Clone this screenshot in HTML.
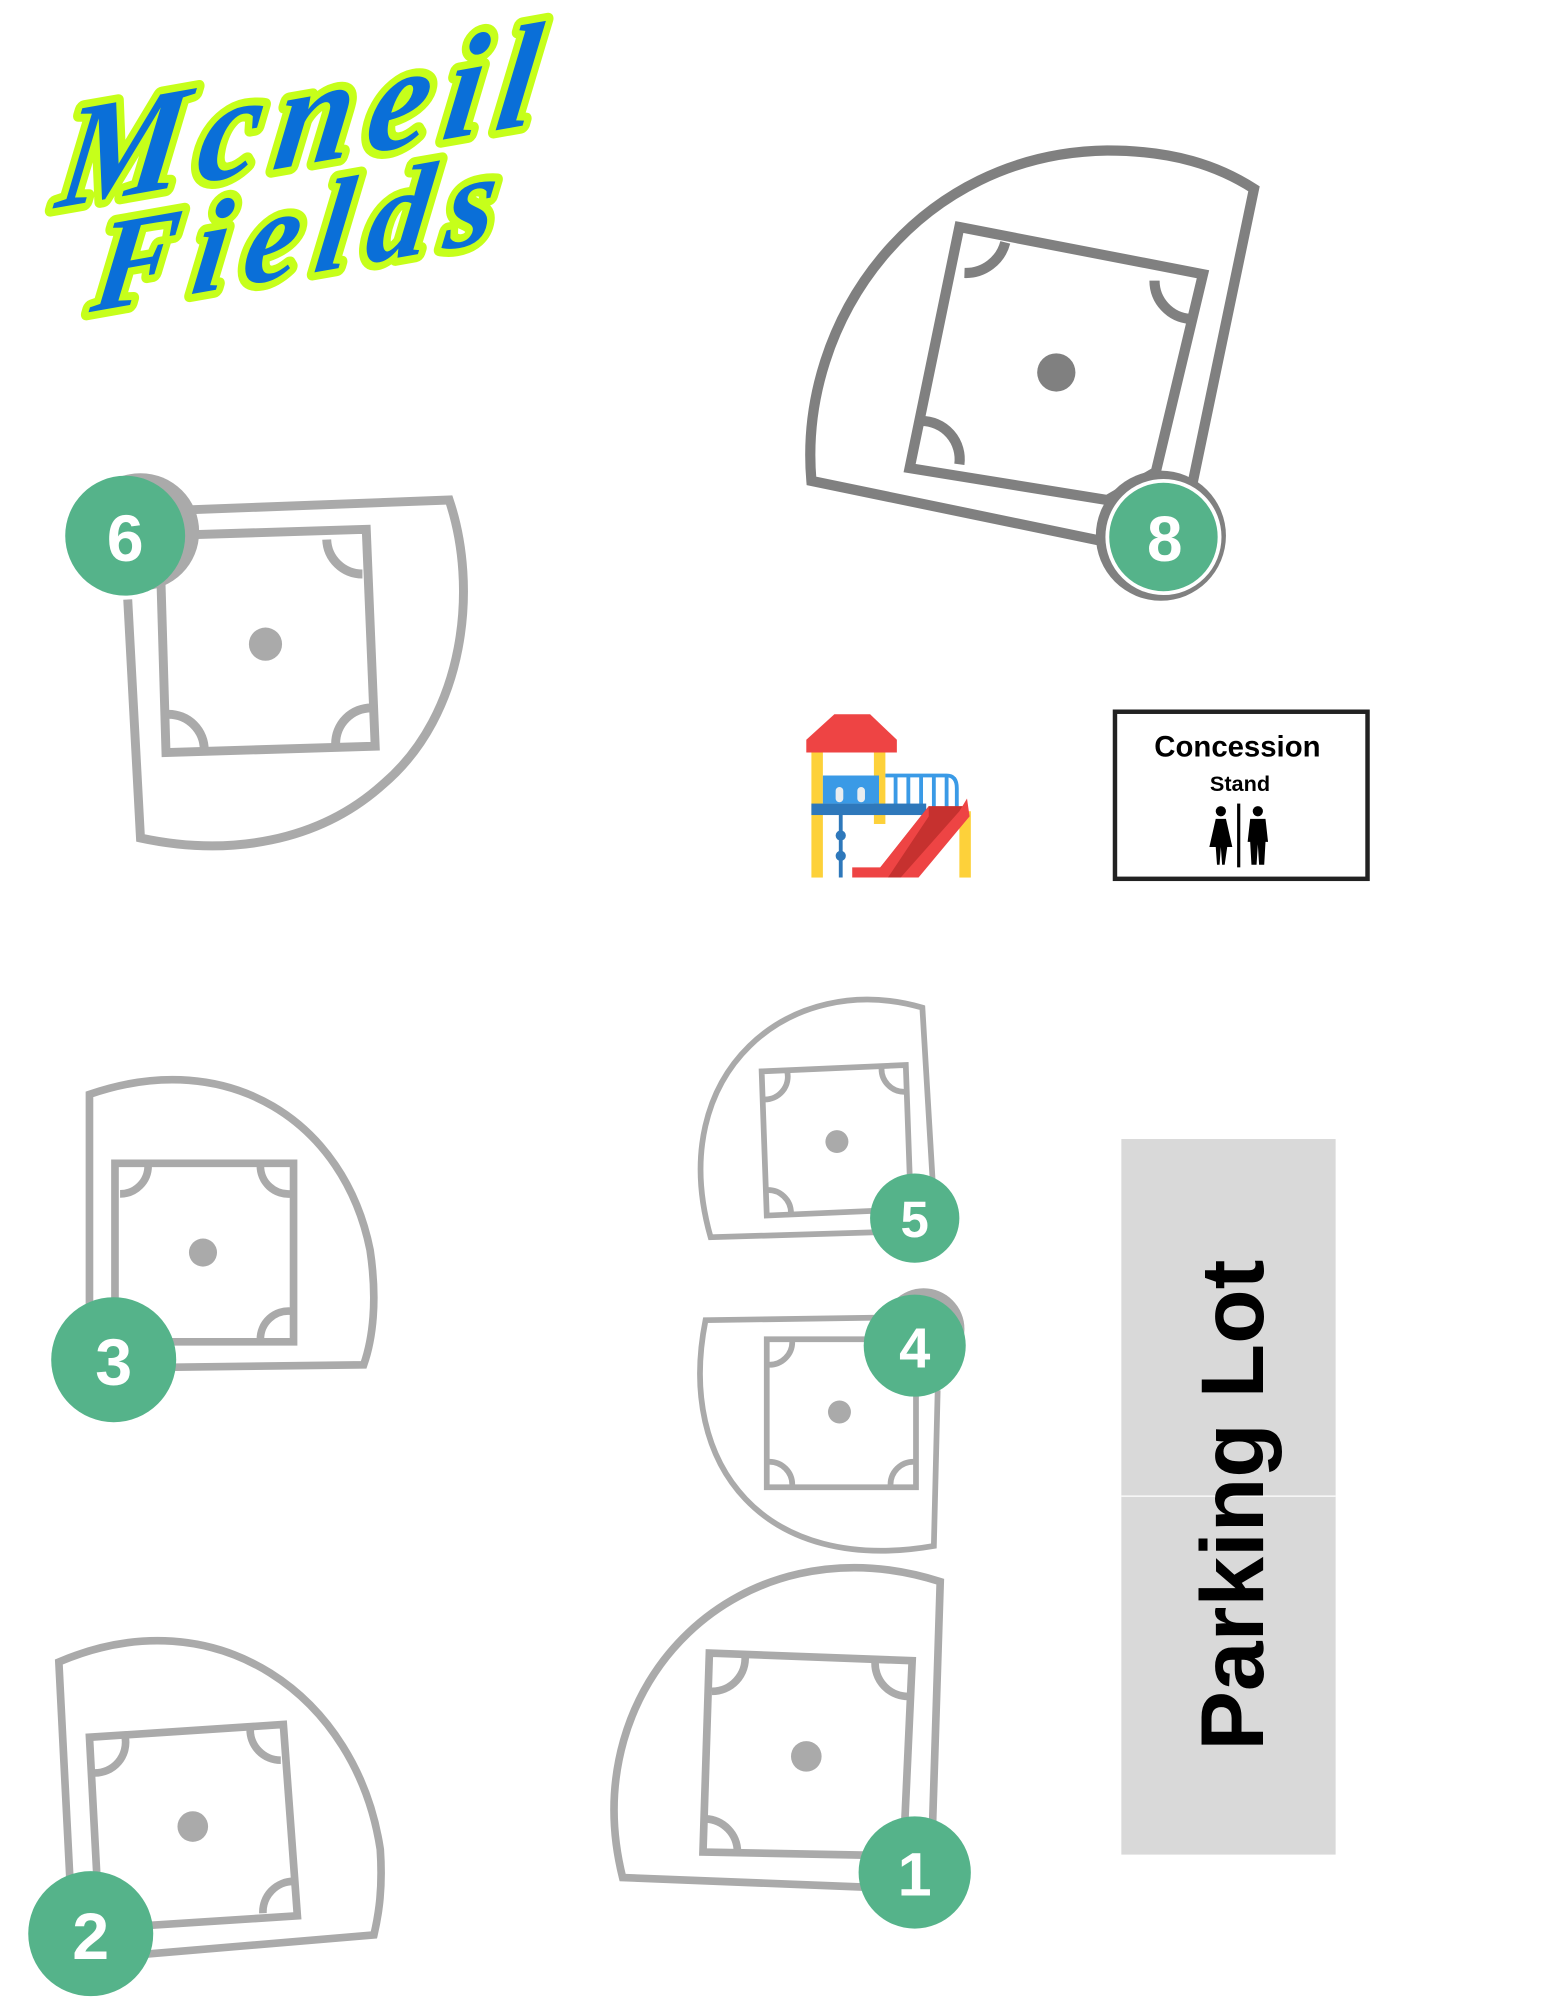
<!DOCTYPE html>
<html><head><meta charset="utf-8"><style>
html,body{margin:0;padding:0;background:#fff;width:1545px;height:2000px;overflow:hidden}
svg{display:block}
text{font-family:"Liberation Sans",sans-serif}
</style></head><body>
<svg width="1545" height="2000" viewBox="0 0 1211 1568" xmlns="http://www.w3.org/2000/svg">
<!-- Logo -->
<g transform="rotate(-10 230 120) skewX(-18)" font-style="italic" font-weight="bold" fill="#0a6fd8" stroke="#c6ff1a" stroke-width="12" paint-order="stroke" stroke-linejoin="round">
<text x="80" y="130" font-size="112" style="font-family:'Liberation Serif',serif" textLength="380">Mcneil</text>
<text x="120" y="215" font-size="100" style="font-family:'Liberation Serif',serif" textLength="320">Fields</text>
</g>

<!-- Field 8 -->
<g fill="none" stroke="#808080" stroke-width="8">
<path d="M868,425 L636,377 C625,250 720,120 868,118 C920,118 955,130 983,148 L935,378"/>
<path d="M752,178 L943,215 L906,370 L868,392 L713,367 Z"/>
<path d="M756,214 A32,32 0 0 0 788,190"/>
<path d="M933,250 A30,30 0 0 1 905,220"/>
<path d="M722,330 A30,30 0 0 1 752,364"/>
</g>
<circle cx="828" cy="292" r="15" fill="#808080"/>
<circle cx="910" cy="420" r="51" fill="#808080"/>
<circle cx="912" cy="421" r="44" fill="#55b38a" stroke="#fff" stroke-width="3"/>
<text x="913" y="440" font-size="50" font-weight="bold" fill="#fff" text-anchor="middle">8</text>

<!-- Field 6 -->
<g fill="none" stroke="#aaa" stroke-width="7">
<path d="M140,400 L352,392 C375,460 365,560 300,615 C250,660 180,672 110,657 L100,470"/>
<path d="M125,420 L287,415 L294,585 L130,590 Z"/>
<path d="M256,423 A28,28 0 0 0 284,450"/>
<path d="M132,560 A28,28 0 0 1 160,588"/>
<path d="M291,555 A28,28 0 0 0 263,583"/>
</g>
<circle cx="208" cy="505" r="13" fill="#aaa"/>
<circle cx="110" cy="417" r="46" fill="#aaa"/>
<circle cx="98" cy="420" r="47" fill="#55b38a"/>
<text x="98" y="440" font-size="52" font-weight="bold" fill="#fff" text-anchor="middle">6</text>

<!-- Field 3 -->
<g fill="none" stroke="#aaa" stroke-width="6">
<path d="M70,1030 L70,858 C180,820 270,880 290,980 C296,1020 292,1050 285,1070 L130,1072"/>
<path d="M90,912 L230,912 L230,1052 L90,1052 Z"/>
<path d="M94,936 A22,22 0 0 0 116,914"/>
<path d="M228,936 A22,22 0 0 1 204,914"/>
<path d="M228,1028 A22,22 0 0 0 204,1050"/>
</g>
<circle cx="159" cy="982" r="11" fill="#aaa"/>
<circle cx="89" cy="1066" r="49" fill="#55b38a"/>
<text x="89" y="1086" font-size="52" font-weight="bold" fill="#fff" text-anchor="middle">3</text>

<!-- Field 2 -->
<g fill="none" stroke="#aaa" stroke-width="6">
<path d="M55,1480 L46,1303 C170,1250 280,1330 298,1450 C300,1480 297,1500 293,1517 L115,1532"/>
<path d="M70,1362 L222,1352 L233,1502 L78,1512 Z"/>
<path d="M74,1390 A24,24 0 0 0 98,1362"/>
<path d="M220,1380 A24,24 0 0 1 196,1355"/>
<path d="M230,1475 A24,24 0 0 0 206,1500"/>
</g>
<circle cx="151" cy="1432" r="12" fill="#aaa"/>
<circle cx="71" cy="1516" r="49" fill="#55b38a"/>
<text x="71" y="1536" font-size="52" font-weight="bold" fill="#fff" text-anchor="middle">2</text>

<!-- Field 5 -->
<g fill="none" stroke="#aaa" stroke-width="4.5">
<path d="M731,925 L723,790 C620,760 520,840 557,970 L690,966"/>
<path d="M597,840 L710,835 L714,948 L601,953 Z"/>
<path d="M599,862 A18,18 0 0 0 617,840"/>
<path d="M709,856 A18,18 0 0 1 691,837"/>
<path d="M601,933 A18,18 0 0 1 620,951"/>
</g>
<circle cx="656" cy="895" r="9" fill="#aaa"/>
<circle cx="717" cy="955" r="35" fill="#55b38a"/>
<text x="717" y="970" font-size="40" font-weight="bold" fill="#fff" text-anchor="middle">5</text>

<!-- Field 4 -->
<g fill="none" stroke="#aaa" stroke-width="4.5">
<path d="M690,1033 L553,1035 C530,1150 600,1235 732,1212 L735,1090"/>
<path d="M601,1050 L718,1050 L718,1166 L601,1166 Z"/>
<path d="M603,1070 A18,18 0 0 0 621,1052"/>
<path d="M603,1146 A18,18 0 0 1 621,1164"/>
<path d="M716,1146 A18,18 0 0 0 698,1164"/>
</g>
<circle cx="658" cy="1107" r="9" fill="#aaa"/>
<circle cx="724" cy="1042" r="32" fill="#aaa"/>
<circle cx="717" cy="1055" r="40" fill="#55b38a"/>
<text x="717" y="1072" font-size="44" font-weight="bold" fill="#fff" text-anchor="middle">4</text>

<!-- Field 1 -->
<g fill="none" stroke="#aaa" stroke-width="6">
<path d="M731,1430 L737,1240 C580,1190 450,1320 488,1472 L690,1480"/>
<path d="M556,1296 L715,1302 L708,1455 L551,1452 Z"/>
<path d="M558,1326 A26,26 0 0 0 584,1298"/>
<path d="M713,1330 A26,26 0 0 1 686,1302"/>
<path d="M553,1426 A26,26 0 0 1 578,1452"/>
</g>
<circle cx="632" cy="1377" r="12" fill="#aaa"/>
<circle cx="717" cy="1468" r="44" fill="#55b38a"/>
<text x="717" y="1486" font-size="48" font-weight="bold" fill="#fff" text-anchor="middle">1</text>

<!-- Playground -->
<g>
<rect x="636" y="586" width="9" height="102" fill="#fdd13a"/>
<rect x="685" y="586" width="9" height="60" fill="#fdd13a"/>
<rect x="752" y="636" width="9" height="52" fill="#fdd13a"/>
<path d="M632,580 L654,560 L682,560 L703,580 L703,590 L632,590 Z" fill="#ee4444"/>
<rect x="645" y="608" width="44" height="22" fill="#3a9ae6"/>
<rect x="655" y="617" width="6" height="12" rx="3" fill="#e8edf0"/>
<rect x="672" y="617" width="6" height="12" rx="3" fill="#e8edf0"/>
<path d="M694,608 L742,608 Q750,608 750,618 L750,638" fill="none" stroke="#3a9ae6" stroke-width="3"/>
<g stroke="#3a9ae6" stroke-width="3"><line x1="702" y1="608" x2="702" y2="636"/><line x1="712" y1="608" x2="712" y2="636"/><line x1="722" y1="608" x2="722" y2="636"/><line x1="732" y1="608" x2="732" y2="636"/><line x1="742" y1="608" x2="742" y2="636"/></g>
<rect x="636" y="630" width="90" height="9" fill="#2e78bb"/>
<line x1="659" y1="639" x2="659" y2="688" stroke="#2e78bb" stroke-width="3"/>
<circle cx="659" cy="655" r="4" fill="#2e78bb"/><circle cx="659" cy="671" r="4" fill="#2e78bb"/>
<path d="M668,688 L690,680 L728,632 L758,632 L718,688 Z" fill="#c6312f"/>
<path d="M668,680 L690,680 L728,632 L728,640 L696,688 L668,688 Z" fill="#ee4444"/>
<path d="M706,688 L752,636 L758,626 L760,640 L720,688 Z" fill="#ee4444"/>
</g>

<!-- Concession -->
<rect x="874" y="558" width="198" height="131" fill="#fff" stroke="#222" stroke-width="3.5"/>
<text x="970" y="593" font-size="23" font-weight="bold" text-anchor="middle">Concession</text>
<text x="972" y="620" font-size="17" font-weight="bold" text-anchor="middle">Stand</text>
<line x1="971" y1="630" x2="971" y2="680" stroke="#000" stroke-width="2.5"/>
<g fill="#000">
<circle cx="957" cy="636" r="4"/>
<path d="M953,642 L961,642 L966,664 L962,664 L960,678 L958,678 L957,664 L956,678 L954,678 L953,664 L948,664 Z"/>
<circle cx="986" cy="636" r="4"/>
<path d="M980,642 L992,642 L994,660 L992,660 L991,678 L987,678 L986,662 L985,678 L981,678 L980,660 L978,660 Z"/>
</g>

<!-- Parking lot -->
<rect x="879" y="893" width="168" height="561" fill="#d9d9d9"/>
<line x1="879" y1="1173" x2="1047" y2="1173" stroke="#fff" stroke-width="1"/>
<text transform="translate(990,1180) rotate(-90)" font-size="70" font-weight="bold" text-anchor="middle" fill="#000">Parking Lot</text>
</svg>
</body></html>
